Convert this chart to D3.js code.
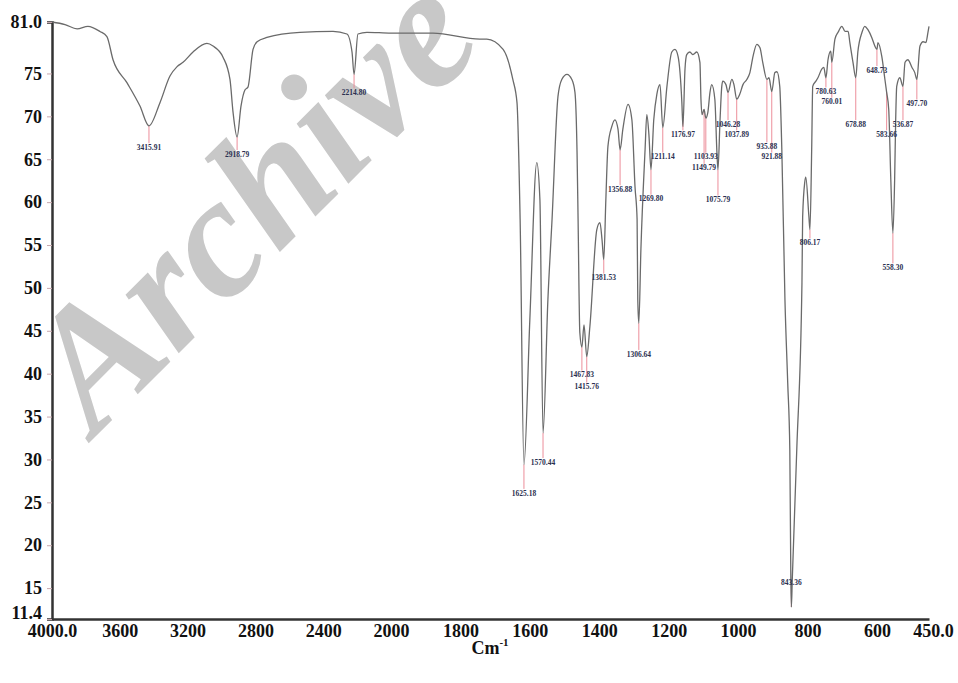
<!DOCTYPE html>
<html lang="en">
<head>
<meta charset="UTF-8">
<script src="https://d3js.org/d3.v7.min.js"></script>
<title>IR spectrum</title>
<style>
  body { margin: 0; background: #fff; }
</style>
</head>
<body>
<svg id="chart" width="958" height="683"></svg>
<script>
// spectrum (cm-1, %T)
const wavenumber = [4000,3923,3852,3788,3717,3676,3640,3557,3481,3428,3363,3304,3262,3227,3168,3086,3050,2991,2950,2932,
  2908,2885,2861,2844,2814,2790,2732,2537,2342,2260,2230,2218,2195,2142,2000,1879,1744,1724,1677,1649,
  1637,1628,1617,1600,1580,1571,1562,1548,1536,1519,1508,1493,1479,1470,1464,1461,1456,1450,1444,1436,
  1427,1407,1398,1392,1387,1381,1375,1364,1355,1346,1340,1332,1317,1306,1297,1291,1289,1286,1280,1268,
  1263,1257,1251,1243,1234,1225,1217,1205,1191,1182,1173,1162,1159,1153,1148,1139,1130,1119,1110,1107,
  1104,1098,1093,1087,1081,1076,1067,1061,1058,1052,1047,1044,1035,1029,1018,1012,1004,995,986,975,
  966,957,946,937,929,917,911,903,894,888,880,874,865,857,851,848,846.5,844,831,816,
  814,808,805,796,793,788,785,776,770,759,753,747,741,733,730,721,712,701,692,683,
  678,669,661,655,643,635,626,615,606,600,597,586,577,572,566,560,554,549,546,543,
  534,525,519,511,499,491,485,476,467,459,453,450];
const transmittance = [81.0,80.7,80.2,80.5,79.9,79.3,76.6,73.9,71.2,68.9,71.6,74.7,75.8,76.3,77.5,78.5,78.2,76.9,74.3,70.5,
  67.6,71.2,73.1,73.4,77.8,78.7,79.2,79.8,79.9,79.6,77.5,74.9,79.6,79.8,79.7,79.7,79.0,79.0,77.8,74.3,
  71.6,58.0,29.4,46.3,64.6,60.3,33.1,48.6,58.0,72.3,74.3,74.9,74.3,72.8,65.8,58.0,44.8,43.1,45.7,42.0,
  45.5,56.8,57.6,55.6,53.3,60.3,66.5,68.8,69.6,68.5,66.1,68.5,71.4,69.6,61.8,58.0,48.6,45.9,54.5,66.1,
  70.2,67.9,63.8,69.6,72.6,73.7,68.7,73.5,77.5,77.8,77.0,71.6,68.8,75.5,77.2,77.5,77.2,77.5,76.3,72.0,
  70.2,70.8,69.8,70.5,72.8,73.7,72.0,65.8,63.8,69.6,73.5,74.1,73.7,72.8,74.3,73.7,72.0,72.6,73.7,74.3,
  75.1,77.0,78.4,78.0,76.3,74.3,74.5,72.9,75.1,75.2,73.5,66.1,48.6,38.9,31.1,15.9,12.8,15.9,31.1,50.6,
  58.3,62.3,62.9,58.3,56.8,66.1,73.5,74.1,74.5,75.5,75.7,74.5,76.6,77.6,76.3,79.0,79.8,80.5,79.9,79.9,
  78.6,76.3,74.5,77.5,79.8,80.5,80.1,79.2,78.2,77.8,78.6,77.0,74.3,72.8,70.8,62.6,56.4,62.6,69.6,73.5,
  74.5,73.5,76.3,76.6,75.7,75.1,74.3,78.2,78.7,78.6,79.8,80.5];

// peak annotations: label text, peak position, peak %T, level of the label
const peakText = ["3415.91","2918.79","2214.80","1625.18","1570.44","1467.83","1415.76","1381.53","1356.88","1306.64",
  "1269.80","1211.14","1176.97","1103.93","1149.79","1075.79","1046.28","1037.89","935.88","921.88",
  "843.36","806.17","780.63","760.01","678.88","648.73","583.66","558.30","536.87","497.70"];
const peakWn = [3428,2908,2218,1617,1562,1450,1436,1387,1340,1286,
  1251,1217,1159,1093,1098,1058,1029,1004,917,903,
  846.5,793,747,730,661,600,572,554,525,485];
const peakT = [68.9,67.6,74.9,29.4,33.1,43.1,42.0,53.3,66.1,45.9,
  63.8,68.7,70.0,69.8,70.8,63.8,72.8,72.0,74.3,72.9,
  12.8,56.8,74.5,76.3,74.5,77.8,72.8,56.4,73.5,74.3];
const labelT = [66.4,65.6,72.8,26.1,29.7,39.9,38.5,51.2,61.5,42.3,
  60.4,65.3,67.9,65.3,64.0,60.3,69.1,67.9,66.5,65.3,
  15.7,55.3,72.9,71.7,69.1,75.4,67.9,52.4,69.1,71.5];

const xTicks = [4000,3600,3200,2800,2400,2000,1800,1600,1400,1200,1000,800,600,450];
const xTickText = ["4000.0","3600","3200","2800","2400","2000","1800","1600","1400","1200","1000","800","600","450.0"];
const yTicks = [81,75,70,65,60,55,50,45,40,35,30,25,20,15,11.4];
const yTickText = ["81.0","75","70","65","60","55","50","45","40","35","30","25","20","15","11.4"];

const svg = d3.select("#chart");

// the x axis is compressed above 2000 cm-1
const x = d3.scaleLinear().domain([4000, 2000, 450]).range([52, 391, 929]);
const y = d3.scaleLinear().domain([11.4, 81]).range([619, 22]);

const serif = "'Liberation Serif', 'Times New Roman', serif";

// watermark (kept under the spectrum)
svg.append("text")
  .attr("transform", "translate(250,200) rotate(-45)")
  .attr("text-anchor", "middle")
  .attr("dominant-baseline", "central")
  .attr("font-family", serif).attr("font-weight", "bold").attr("font-style", "italic")
  .attr("font-size", 172)
  .attr("fill", "#c8c8c8")
  .text("Archive");

// x axis
const xAxis = svg.append("g")
  .attr("transform", "translate(0,619)")
  .call(d3.axisBottom(x).tickValues(xTicks).tickSize(0).tickPadding(5)
    .tickFormat((d, i) => xTickText[i]));
xAxis.select(".domain").attr("stroke", "#333").attr("stroke-width", 2.5);
xAxis.selectAll("text").attr("font-family", serif).attr("font-weight", "bold")
  .attr("font-size", 18).attr("fill", "#111");
xAxis.selectAll("text").filter((d, i) => i === 13).attr("dx", 4);

// y axis
const yAxis = svg.append("g")
  .attr("transform", "translate(52,0)")
  .call(d3.axisLeft(y).tickValues(yTicks).tickSize(5).tickPadding(5)
    .tickFormat((d, i) => yTickText[i]));
yAxis.select(".domain").attr("stroke", "#333").attr("stroke-width", 2.5);
yAxis.selectAll(".tick line").attr("stroke", "#c8a8ae");
yAxis.selectAll("text").attr("font-family", serif).attr("font-weight", "bold")
  .attr("font-size", 18).attr("fill", "#111");
yAxis.selectAll(".tick").filter(d => d === 11.4).select("text").attr("dy", "-0.05em");

// axis title
const title = svg.append("text")
  .attr("x", 490).attr("y", 654)
  .attr("text-anchor", "middle")
  .attr("font-family", serif).attr("font-weight", "bold").attr("font-size", 18)
  .attr("fill", "#111");
title.append("tspan").text("Cm");
title.append("tspan").attr("dy", -8).attr("font-size", 11).text("-1");

// peak markers
const peaks = peakText.map((t, i) => ({ text: t, wn: peakWn[i], t: peakT[i], lt: labelT[i] }));
svg.append("g").selectAll("line")
  .data(peaks)
  .join("line")
  .attr("x1", d => x(d.wn)).attr("x2", d => x(d.wn))
  .attr("y1", d => y(d.t))
  .attr("y2", d => y(d.lt) + (d.lt < d.t ? -4 : 4))
  .attr("stroke", "#ec8e9a").attr("stroke-width", 1);

// spectrum
const points = wavenumber.map((w, i) => [w, transmittance[i]]);
svg.append("path")
  .attr("d", d3.line().x(d => x(d[0])).y(d => y(d[1])).curve(d3.curveMonotoneX)(points))
  .attr("fill", "none")
  .attr("stroke", "#6a6a6a")
  .attr("stroke-width", 1.3);

svg.append("g").selectAll("text")
  .data(peaks)
  .join("text")
  .attr("x", d => x(d.wn)).attr("y", d => y(d.lt))
  .attr("dy", "0.35em")
  .attr("text-anchor", "middle")
  .attr("font-family", serif).attr("font-weight", "bold").attr("font-size", 7.5)
  .attr("fill", "#2b3050")
  .text(d => d.text);
</script>
</body>
</html>
